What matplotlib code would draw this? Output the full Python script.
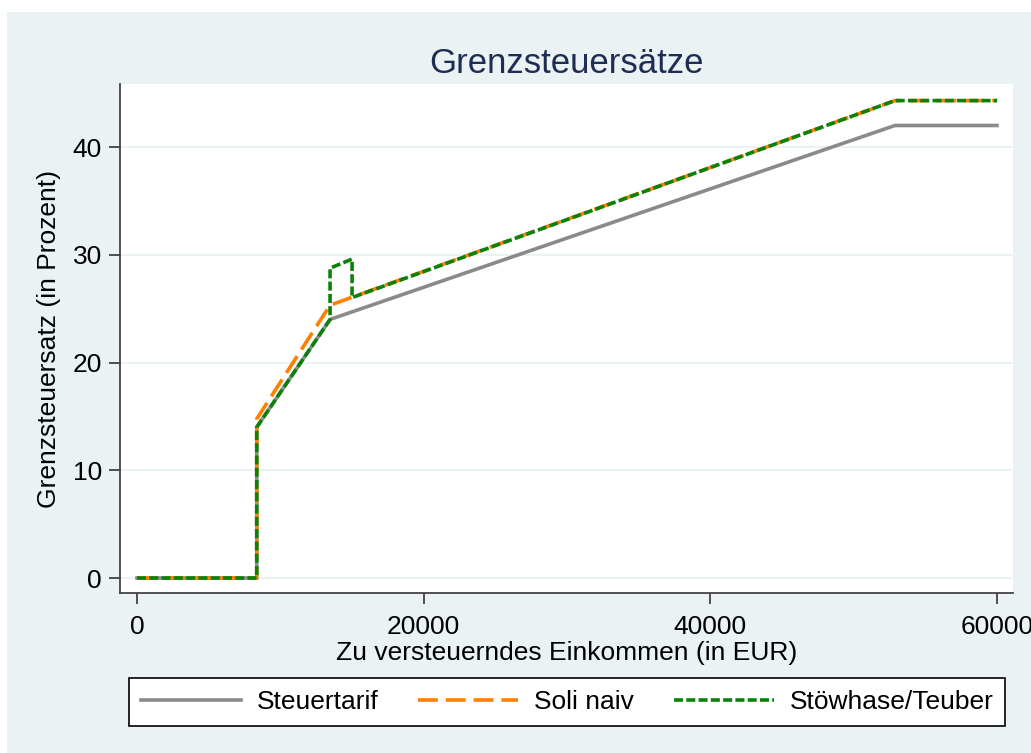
import matplotlib.pyplot as plt
from matplotlib.patches import Rectangle
from matplotlib.lines import Line2D

# income breakpoints (EUR) and marginal rates (percent)
tarif_x = [0, 8354, 8354, 13469, 52881, 60000]
tarif_y = [0, 0, 14.0, 24.0, 42.0, 42.0]

naiv_x = [0, 8354, 8354, 13469, 52881, 60000]
naiv_y = [0, 0, 14.77, 25.32, 44.31, 44.31]

stoew_x = [0, 8354, 8354, 13469, 13469, 15005, 15005, 52881, 60000]
stoew_y = [0, 0, 14.0, 24.0, 28.76, 29.6, 26.03, 44.31, 44.31]

xticks = [0, 20000, 40000, 60000]
yticks = [0, 10, 20, 30, 40]

plt.rcParams['font.family'] = ['Liberation Sans', 'DejaVu Sans']

bg = '#EAF2F3'
fig = plt.figure(figsize=(10.31, 7.53), dpi=100)
fig.patch.set_facecolor('white')
fig.patches.append(Rectangle((7 / 1031, 0), 1, 1 - 12 / 753, transform=fig.transFigure,
                             facecolor=bg, edgecolor='none', zorder=-10))

ax = fig.add_axes([120 / 1031, 160 / 753, 893 / 1031, 509 / 753])
ax.set_facecolor('white')

ax.plot(tarif_x, tarif_y, color='#8A8A8A', lw=2.6, solid_joinstyle='miter',
        label='Steuertarif', zorder=3)
ax.plot(naiv_x, naiv_y, color='#FF8000', lw=2.6, dashes=(5.5, 2.2),
        label='Soli naiv', zorder=4)
ax.plot(stoew_x, stoew_y, color='#0A820A', lw=2.6, dashes=(2.5, 0.9),
        label='Stöwhase/Teuber', zorder=5)

ax.set_xlim(-1186, 61116)
ax.set_ylim(-1.39, 45.85)
ax.set_xticks(xticks)
ax.set_yticks(yticks)
ax.set_xticklabels([str(t) for t in xticks], fontsize=19)
ax.set_yticklabels([str(t) for t in yticks], fontsize=19)
ax.tick_params(axis='both', direction='out', length=8, width=1.2, color='#333333', pad=5)
ax.tick_params(axis='x', pad=8)
ax.grid(axis='y', color=bg, lw=1.5, zorder=0)
for s in ['top', 'right']:
    ax.spines[s].set_visible(False)
for s in ['left', 'bottom']:
    ax.spines[s].set_color('#444444')
    ax.spines[s].set_linewidth(1.3)

ax.set_xlabel('Zu versteuerndes Einkommen (in EUR)', fontsize=19, labelpad=1)
ax.set_ylabel('Grenzsteuersatz (in Prozent)', fontsize=19, labelpad=8)
ax.set_title('Grenzsteuersätze', fontsize=25, color='#1E2D53', pad=8)

handles = [
    Line2D([], [], color='#8A8A8A', lw=2.6),
    Line2D([], [], color='#FF8000', lw=2.6, dashes=(5.5, 2.2)),
    Line2D([], [], color='#0A820A', lw=2.6, dashes=(2.5, 0.9)),
]
leg = fig.legend(handles, ['Steuertarif', 'Soli naiv', 'Stöwhase/Teuber'],
                 loc='center', bbox_to_anchor=(567 / 1031, 1 - 702 / 753),
                 ncol=3, fontsize=19, frameon=True, fancybox=False, framealpha=1,
                 handlelength=3.8, columnspacing=1.5, handletextpad=0.6,
                 borderpad=0.45, borderaxespad=0)
leg.get_frame().set_facecolor('white')
leg.get_frame().set_edgecolor('black')
leg.get_frame().set_linewidth(1.2)

fig.savefig('out.png', dpi=100, facecolor=fig.get_facecolor())
